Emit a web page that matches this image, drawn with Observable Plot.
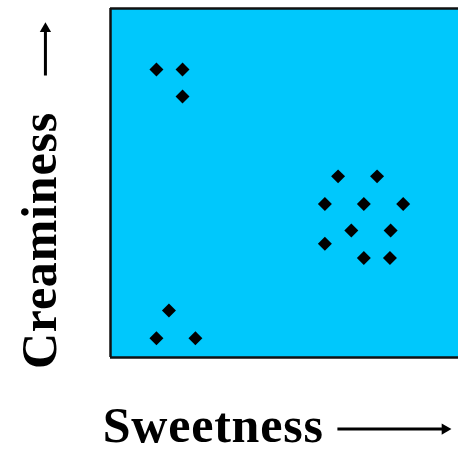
<!DOCTYPE html>
<html>
<head>
<meta charset="utf-8">
<script src="https://cdn.jsdelivr.net/npm/d3@7"></script>
<script src="https://cdn.jsdelivr.net/npm/@observablehq/plot@0.6"></script>
<style>
  html, body { margin: 0; padding: 0; background: #fff; }
  #chart svg text { letter-spacing: 0.8px; }
</style>
</head>
<body>
<div id="chart"></div>
<script>
// Cluster points (sweetness, creaminess) in arbitrary 0–100 units
const sweetness  = [13.2, 20.7, 20.7,
                    65.4, 76.6, 61.6, 72.8, 84.1, 69.2, 80.5, 61.6, 72.8, 80.3,
                    16.8, 13.2, 24.4];
const creaminess = [82.5, 82.5, 74.8,
                    51.9, 51.9, 44.0, 44.0, 44.0, 36.4, 36.4, 32.6, 28.5, 28.5,
                    13.5, 5.5, 5.5];
const xLabel = "Sweetness";
const yLabel = "Creaminess";

const points = sweetness.map((x, i) => ({x, y: creaminess[i]}));

const font = "'Liberation Serif', 'Times New Roman', serif";

const chart = Plot.plot({
  width: 458,
  height: 452,
  marginLeft: 110,
  marginTop: 8,
  marginRight: 0,
  marginBottom: 95,
  style: {background: "#fff", overflow: "visible"},
  x: {domain: [0, 100], axis: null},
  y: {domain: [0, 100], axis: null},
  marks: [
    Plot.frame({fill: "#00c8fc", stroke: null}),
    Plot.ruleX([0], {stroke: "#111", strokeWidth: 2.5}),
    Plot.ruleY([0, 100], {stroke: "#111", strokeWidth: 2.5}),
    Plot.dot(points, {x: "x", y: "y", symbol: "diamond2", r: 6.3, fill: "#000", stroke: null}),
    // axis labels
    Plot.text([xLabel], {x: 29.5, y: -19.6, text: d => d, fontSize: 50, fontWeight: "bold",
      fontFamily: font, fill: "#000", textAnchor: "middle", lineAnchor: "middle"}),
    Plot.text([yLabel], {x: -20.4, y: 33.5, text: d => d, fontSize: 50, fontWeight: "bold",
      fontFamily: font, fill: "#000", rotate: -90, textAnchor: "middle", lineAnchor: "middle"}),
    // arrow shafts
    Plot.link([0], {x1: 65.2, x2: 95.4, y1: -20.5, y2: -20.5, stroke: "#000", strokeWidth: 3}),
    Plot.link([0], {x1: -18.7, x2: -18.7, y1: 80.8, y2: 93.7, stroke: "#000", strokeWidth: 3}),
    // arrow heads
    Plot.dot([0], {x: 96.1, y: -20.5, symbol: "triangle", r: 4.2, rotate: 90, fill: "#000", stroke: null}),
    Plot.dot([0], {x: -18.7, y: 94.2, symbol: "triangle", r: 4.2, fill: "#000", stroke: null})
  ]
});

document.getElementById("chart").appendChild(chart);
</script>
</body>
</html>
